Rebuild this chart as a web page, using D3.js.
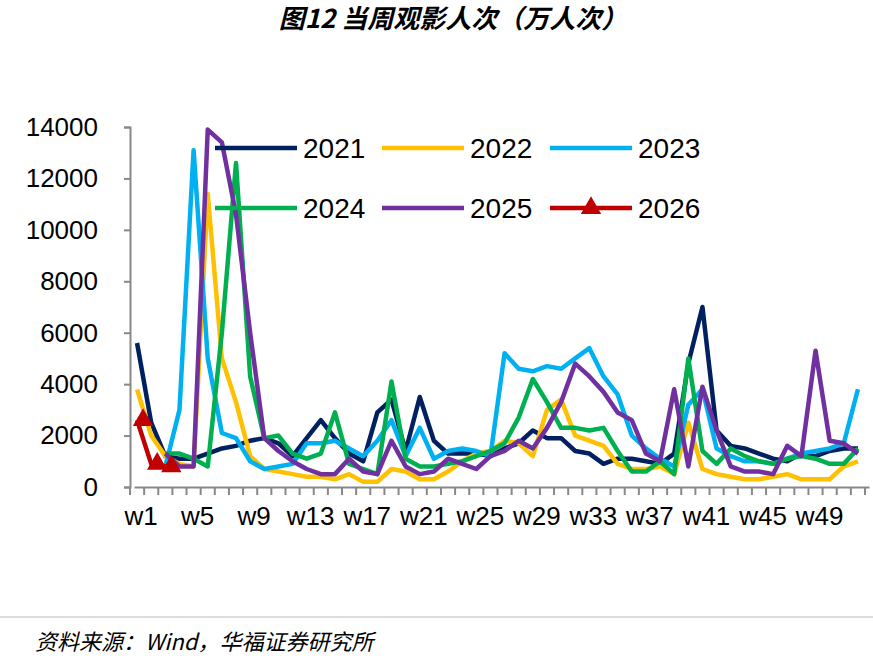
<!DOCTYPE html><html><head><meta charset="utf-8"><script src="https://cdn.jsdelivr.net/npm/d3@7"></script>
<style>body{margin:0;background:#fff}text{font-family:Arial,"Liberation Sans",sans-serif}</style></head><body><svg id="c" width="873" height="665"></svg>
<script>
const weeks = d3.range(1,53).map(i=>"w"+i);
const yTicks = [0,2000,4000,6000,8000,10000,12000,14000];
const s2021 = [5600,2500,1200,1100,1100,1300,1500,1600,1800,1900,1700,1200,1900,2600,1900,1300,1000,2900,3400,1400,3500,1800,1300,1300,1300,1200,1500,1700,2200,1900,1900,1400,1300,900,1100,1100,1000,900,1300,4800,7000,2200,1600,1500,1300,1100,1000,1300,1200,1400,1500,1500];
const s2022 = [3800,2000,1200,900,800,11400,5000,3300,1200,700,600,500,400,400,300,500,200,200,700,600,300,300,600,1000,1300,1400,1800,1700,1200,3000,3400,2000,1800,1600,900,700,700,800,500,2500,700,500,400,300,300,400,500,300,300,300,800,1000];
const s2023 = [null,900,800,3000,13100,5000,2100,1900,1000,700,800,900,1700,1700,1800,1500,1200,1800,2600,1200,2300,1100,1400,1500,1400,1200,5200,4600,4500,4700,4600,5000,5400,4300,3600,2000,1500,1100,800,3200,3800,1500,1200,1000,1000,900,1100,1300,1400,1500,1700,3800];
const s2024 = [null,null,1300,1300,1100,800,6000,12600,4300,1900,2000,1300,1100,1300,2900,900,700,500,4100,1100,800,800,900,1000,1200,1400,1700,2700,4200,3300,2300,2300,2200,2300,1400,600,600,1000,500,5000,1400,900,1500,1200,1000,900,1100,1200,1100,900,900,1500];
const s2025 = [null,null,1300,800,800,13900,13400,10600,6000,1900,1400,1000,700,500,500,1100,600,500,1800,800,500,600,1100,900,700,1200,1400,1800,1500,2300,3300,4800,4300,3700,2900,2600,1300,1000,3800,800,3900,2200,800,600,600,500,1600,1200,5300,1800,1700,1300];
const s2026 = [2600,900,800];
const series = [
 {name:"2021",color:"#002060",v:s2021},
 {name:"2022",color:"#FFC000",v:s2022},
 {name:"2023",color:"#00B0F0",v:s2023},
 {name:"2024",color:"#00B050",v:s2024},
 {name:"2025",color:"#7030A0",v:s2025},
 {name:"2026",color:"#C00000",v:s2026,marker:true}];
const svg=d3.select("#c");
const x=d3.scaleBand().domain(weeks).range([130,865]);
const y=d3.scaleLinear().domain([0,14000]).range([487,127]);
svg.append("text").attr("x",453).attr("y",28).attr("text-anchor","middle").attr("font-size",26).attr("font-style","italic").attr("font-weight","bold").style("font-family","'Noto Sans CJK SC'").text("图12 当周观影人次（万人次）");
const ya=svg.append("g").attr("transform","translate(130,0)").call(d3.axisLeft(y).tickValues(yTicks).tickFormat(d3.format("d")).tickSize(6).tickPadding(26));
ya.select(".domain").attr("stroke","#888").attr("stroke-width",2);
ya.selectAll("line").attr("stroke","#888").attr("stroke-width",2);
ya.selectAll("text").attr("font-size",26).attr("fill","#000");
const xa=svg.append("g").attr("transform","translate(4,487)").call(d3.axisBottom(x).tickValues(weeks.filter((d,i)=>i%4==0)).tickSize(0).tickPadding(20));
xa.select(".domain").attr("stroke","#888").attr("stroke-width",2);
xa.selectAll("text").attr("font-size",26).attr("fill","#000");
svg.append("g").selectAll("line").data(d3.range(53)).join("line")
 .attr("x1",i=>130+i*x.step()).attr("x2",i=>130+i*x.step()).attr("y1",487).attr("y2",495).attr("stroke","#888").attr("stroke-width",2);
const line=d3.line().defined(d=>d!=null).x((d,i)=>x(weeks[i])+x.bandwidth()/2).y(d=>y(d));
series.forEach(s=>{
 svg.append("path").attr("d",line(s.v)).attr("fill","none").attr("stroke",s.color).attr("stroke-width",4.5).attr("stroke-linejoin","round");
 if(s.marker) svg.append("g").selectAll("path").data(s.v).join("path")
   .attr("d",d3.symbol(d3.symbolTriangle,180)).attr("fill",s.color)
   .attr("transform",(d,i)=>`translate(${x(weeks[i])+x.bandwidth()/2+6},${y(d)})`);
});
const lx=[215,382,550], ly=[148,208];
series.forEach((s,i)=>{
 const gx=lx[i%3], gy=ly[Math.floor(i/3)];
 svg.append("line").attr("x1",gx).attr("x2",gx+82).attr("y1",gy).attr("y2",gy).attr("stroke",s.color).attr("stroke-width",4.5);
 if(s.marker) svg.append("path").attr("d",d3.symbol(d3.symbolTriangle,180)).attr("fill",s.color).attr("transform",`translate(${gx+41},${gy})`);
 svg.append("text").attr("x",gx+88).attr("y",gy+10).attr("font-size",28).text(s.name);
});
svg.append("line").attr("x1",0).attr("x2",873).attr("y1",617).attr("y2",617).attr("stroke","#bbb");
svg.append("text").attr("x",35).attr("y",650).attr("font-size",22).attr("font-style","italic").style("font-family","'Noto Sans CJK SC'").text("资料来源：Wind，华福证券研究所");
</script></body></html>
